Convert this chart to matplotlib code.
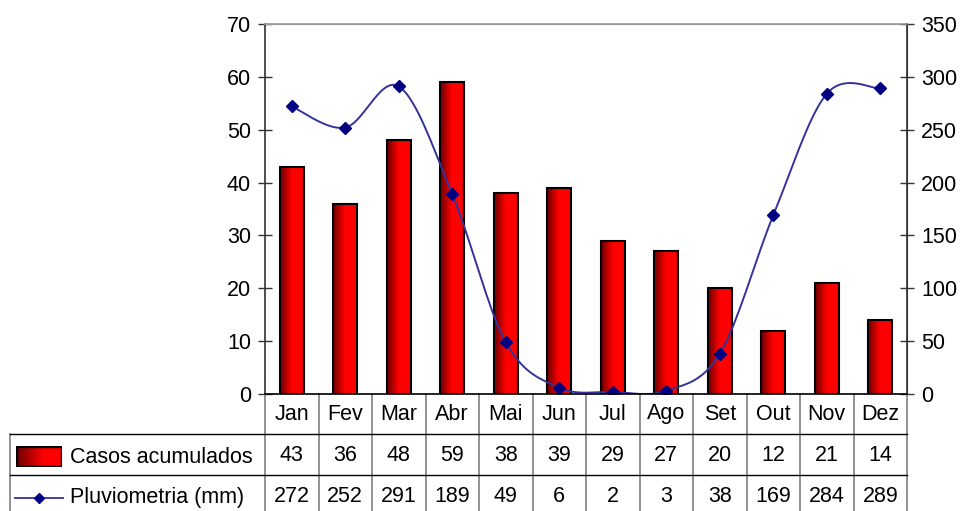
import numpy as np
import matplotlib.pyplot as plt
from matplotlib.patches import Rectangle
from matplotlib.lines import Line2D

plt.rcParams['font.family'] = ['Liberation Sans', 'DejaVu Sans']

months = ['Jan', 'Fev', 'Mar', 'Abr', 'Mai', 'Jun', 'Jul', 'Ago', 'Set', 'Out', 'Nov', 'Dez']
casos = [43, 36, 48, 59, 38, 39, 29, 27, 20, 12, 21, 14]
chuva = [272, 252, 291, 189, 49, 6, 2, 3, 38, 169, 284, 289]
row_labels = ['Casos acumulados', 'Pluviometria (mm)']

FS = 15.5


def catmull_rom(x, y, n=20):
    # smoothed line like the spreadsheet's "smooth line" option
    x = np.asarray(x, float)
    y = np.asarray(y, float)
    px = np.concatenate([[x[0]], x, [x[-1]]])
    py = np.concatenate([[y[0]], y, [y[-1]]])
    xs, ys = [], []
    t = np.linspace(0, 1, n)
    for i in range(1, len(px) - 2):
        for p, out in ((px, xs), (py, ys)):
            p0, p1, p2, p3 = p[i - 1], p[i], p[i + 1], p[i + 2]
            m1 = (p2 - p0) / 2
            m2 = (p3 - p1) / 2
            h00 = 2 * t**3 - 3 * t**2 + 1
            h10 = t**3 - 2 * t**2 + t
            h01 = -2 * t**3 + 3 * t**2
            h11 = t**3 - t**2
            out.extend(h00 * p1 + h10 * m1 + h01 * p2 + h11 * m2)
    return np.array(xs), np.array(ys)


W, H = 961, 511
fig = plt.figure(figsize=(W / 100, H / 100), dpi=100)
L, R, T, B = 265, 907, 24, 394
ax = fig.add_axes([L / W, 1 - B / H, (R - L) / W, (B - T) / H])
ax2 = ax.twinx()

x = np.arange(len(months))
bw = 0.44
grad = np.concatenate([np.linspace(0, 1, 50), np.ones(40), np.linspace(1, 0.92, 10)])
cmap_cols = np.zeros((1, len(grad), 3))
cmap_cols[0, :, 0] = 0.42 + 0.58 * grad
for xi, v in zip(x, casos):
    ax.imshow(cmap_cols, extent=[xi - bw / 2, xi + bw / 2, 0, v], aspect='auto',
              interpolation='bilinear', zorder=2)
    ax.add_patch(Rectangle((xi - bw / 2, 0), bw, v, fill=False, edgecolor='black',
                           linewidth=1.5, zorder=3))

sx, sy = catmull_rom(x, chuva)
ax2.plot(sx, sy, color='#333399', linewidth=1.4, zorder=4)
ax2.plot(x, chuva, linestyle='none', marker='D', markersize=6.5, color='#000080', zorder=5)

ax.set_xlim(-0.5, len(months) - 0.5)
ax.set_ylim(0, 70)
ax2.set_ylim(0, 350)
ax.set_yticks(range(0, 71, 10))
ax2.set_yticks(range(0, 351, 50))
ax.set_xticks([])
for a in (ax, ax2):
    a.tick_params(axis='y', labelsize=FS, length=10, width=1, direction='inout',
                  color='#333333', pad=5)
    a.spines['bottom'].set_visible(False)
ax.spines['top'].set_color('#999999')
ax.spines['left'].set_color('#333333')
ax.spines['right'].set_color('#333333')
ax2.spines['top'].set_color('#999999')
ax2.spines['top'].set_linewidth(1.2)
ax2.spines['left'].set_visible(False)
ax2.spines['right'].set_color('#333333')
ax2.spines['right'].set_linewidth(1.2)
ax.spines['left'].set_linewidth(1.2)

# data table under the plot, drawn in pixel coordinates
px = lambda v: v / W
py = lambda v: 1 - v / H
colw = (R - L) / len(months)
rows = [394, 434, 475, 516]
grid = dict(color='#808080', linewidth=1.2, transform=fig.transFigure)
for i in range(len(months) + 1):
    xx = L + i * colw
    fig.add_artist(Line2D([px(xx), px(xx)], [py(rows[0]), py(rows[-1])], **grid))
fig.add_artist(Line2D([px(10), px(10)], [py(rows[1]), py(rows[-1])], **grid))
fig.add_artist(Line2D([px(L), px(R)], [py(rows[0]), py(rows[0])], color='black', linewidth=1.2,
                      transform=fig.transFigure))
for r in rows[1:3]:
    fig.add_artist(Line2D([px(10), px(R)], [py(r), py(r)], color='black', linewidth=1,
                          transform=fig.transFigure))

for i, m in enumerate(months):
    cx = px(L + (i + 0.5) * colw)
    fig.text(cx, py(414), m, ha='center', va='center', fontsize=FS)
    fig.text(cx, py(455), str(casos[i]), ha='center', va='center', fontsize=FS)
    fig.text(cx, py(496), str(chuva[i]), ha='center', va='center', fontsize=FS)

# legend keys inside the table
kx = np.linspace(0, 1, 60)
key = np.zeros((1, 60, 3))
key[0, :, 0] = 0.42 + 0.58 * np.clip(kx * 1.6, 0, 1)
kax = fig.add_axes([px(16), py(467), px(62) - px(16), py(446) - py(467)])
kax.imshow(key, aspect='auto', extent=[0, 1, 0, 1])
kax.add_patch(Rectangle((0, 0), 1, 1, fill=False, edgecolor='black', linewidth=2.4,
                        transform=kax.transAxes))
kax.axis('off')
fig.text(px(70), py(457), row_labels[0], ha='left', va='center', fontsize=FS)
fig.add_artist(Line2D([px(15), px(63)], [py(498), py(498)], color='#333399', linewidth=1.3,
                      transform=fig.transFigure))
fig.add_artist(Line2D([px(39)], [py(498)], marker='D', markersize=5, color='#000080',
                      linestyle='none', transform=fig.transFigure))
fig.text(px(70), py(498), row_labels[1], ha='left', va='center', fontsize=FS)

fig.savefig('out.png', dpi=100)
